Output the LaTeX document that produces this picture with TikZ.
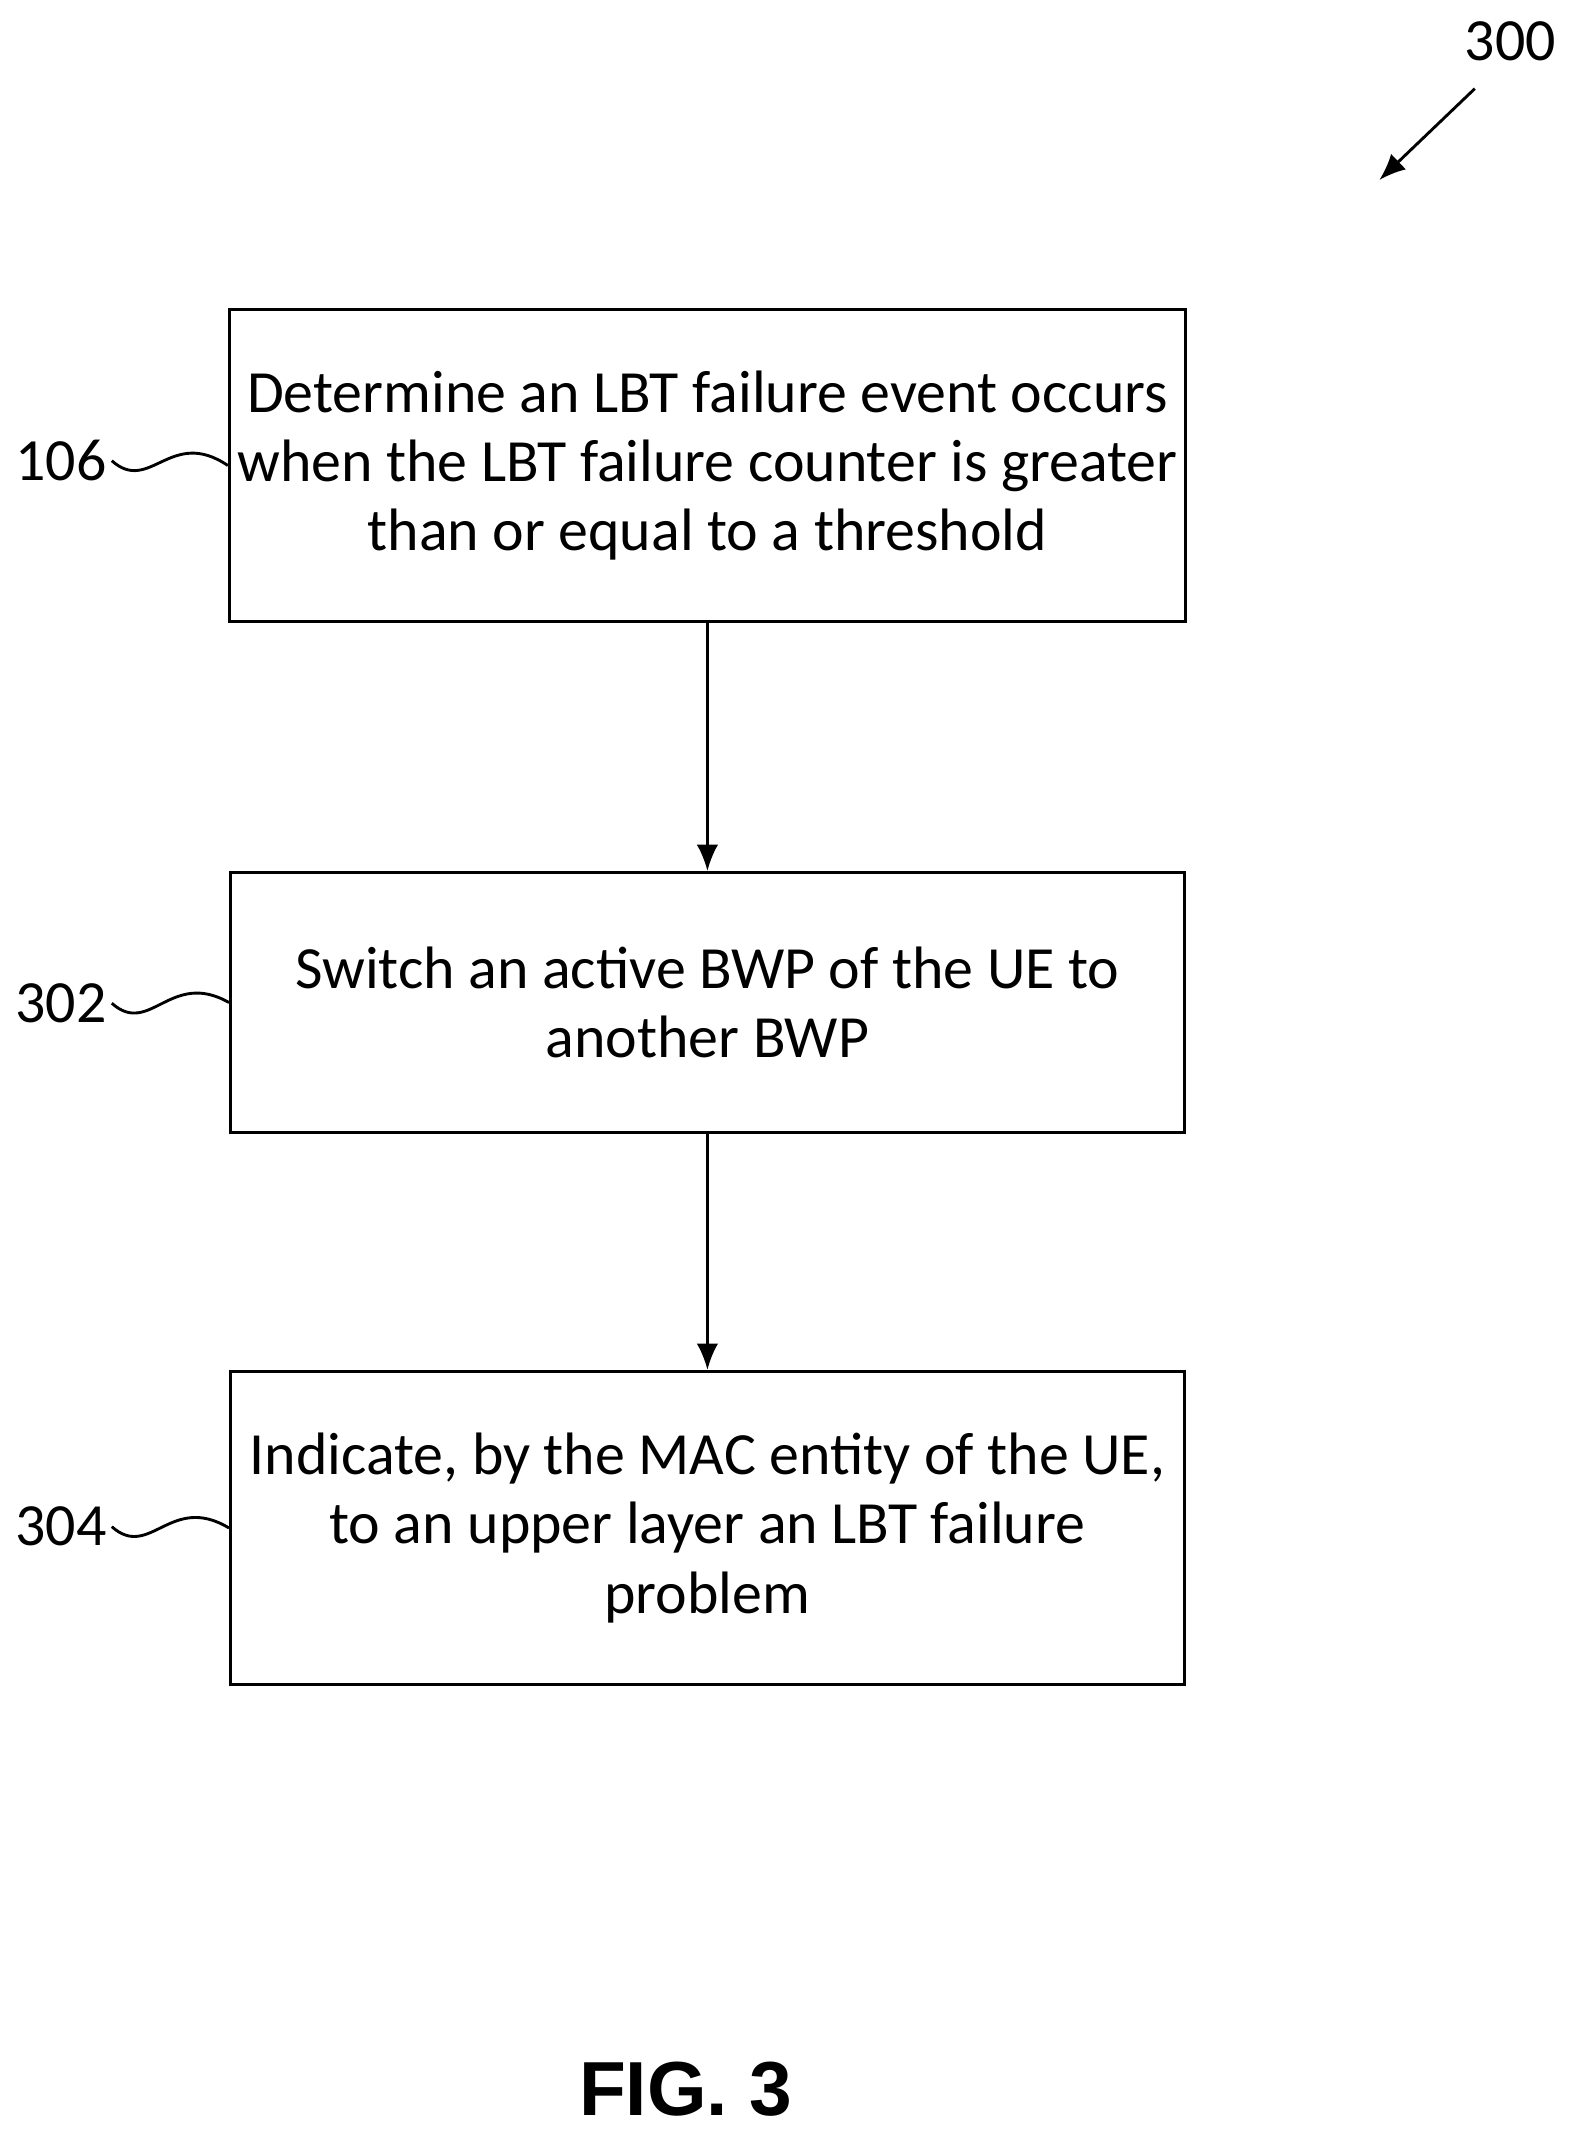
\documentclass[tikz,border=0pt]{standalone}
\usepackage{fontspec}
\setmainfont{Carlito}
\newfontfamily\figfont{Liberation Sans}
\usetikzlibrary{positioning,arrows.meta}
\tikzset{
  stepbox/.style={draw, line width=1.2pt, minimum width=14cm, align=center,
    font=\fontsize{25}{29}\selectfont},
  flow/.style={-{Latex[length=11pt,width=9pt]}, line width=1.2pt},
  ref/.style={font=\fontsize{25}{29}\selectfont}
}
\begin{document}
\begin{tikzpicture}[x=0.02cm, y=-0.02cm]
  \useasboundingbox (0,0) rectangle (1160,1570);
  % Steps
  \node[stepbox, minimum height=4.58cm] (s106) at (519,341.5) {Determine an LBT failure event occurs\\when the LBT failure counter is greater\\than or equal to a threshold};
  \node[stepbox, minimum height=3.82cm] (s302) at (519,735.5) {Switch an active BWP of the UE to\\another BWP};
  \node[stepbox, minimum height=4.6cm] (s304) at (519,1121) {Indicate, by the MAC entity of the UE,\\to an upper layer an LBT failure\\problem};
  % Arrows
  \draw[flow] (s106) -- (s302);
  \draw[flow] (s302) -- (s304);
  % Reference labels
  \foreach \n/\y in {106/338, 302/736, 304/1120}{
    \node[ref, anchor=east, inner sep=2pt] (l\n) at (82,\y) {\n};
    \draw[line width=1.2pt] (l\n.east) .. controls (110,\y+25) and (125,\y-25) .. (s\n.west);
  }
  % Figure number
  \node[ref] (n300) at (1108,30) {300};
  \coordinate (a300) at (1012,132);
  \draw[flow] (1082,65) -- (a300);
  \node[font=\figfont\bfseries\fontsize{32}{38}\selectfont] (fig) at (503,1533) {FIG. 3};
\end{tikzpicture}
\end{document}
